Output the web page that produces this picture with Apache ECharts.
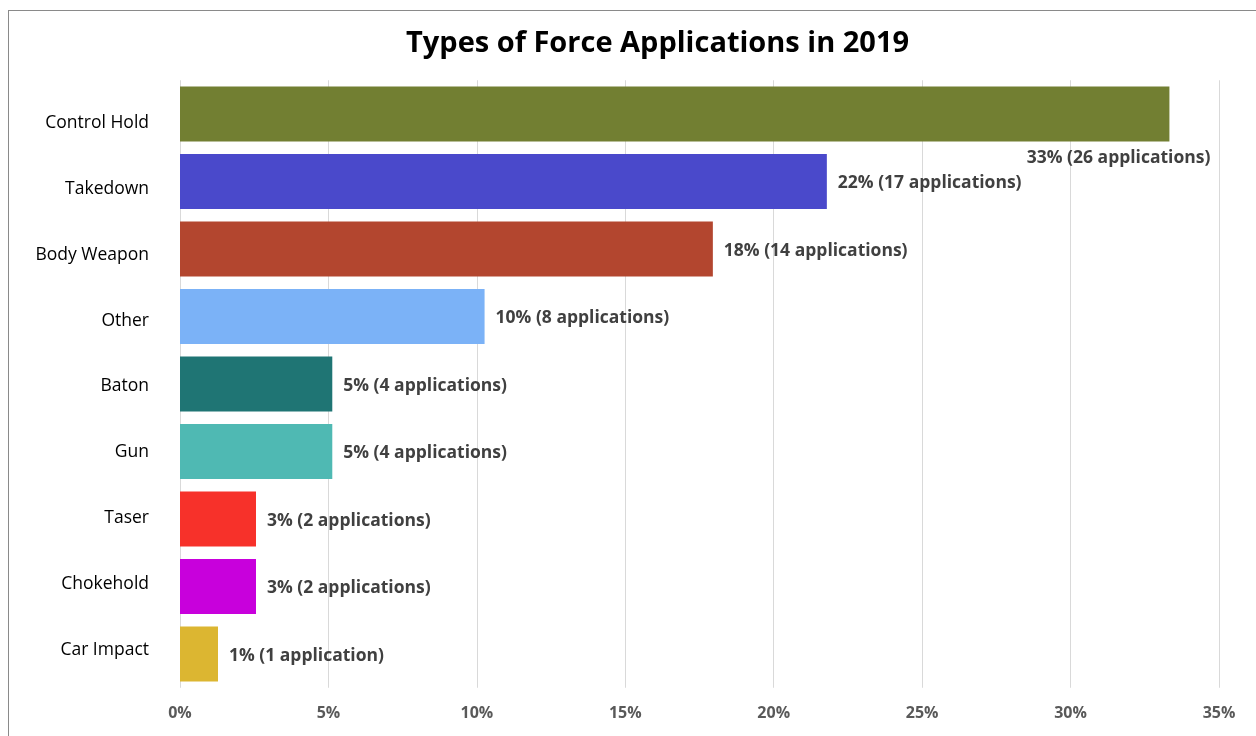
<!DOCTYPE html>
<html>
<head>
<meta charset="utf-8">
<script src="https://cdn.jsdelivr.net/npm/echarts@6/dist/echarts.min.js"></script>
<style>
html,body{margin:0;padding:0;background:#fff;}
#frame{position:absolute;left:8px;top:10px;width:1300px;height:800px;border-left:1.5px solid #8a8a8a;border-top:1.5px solid #8a8a8a;}
#chart{position:absolute;left:0;top:0;width:1256px;height:736px;}
</style>
</head>
<body>
<div id="frame"></div>
<div id="chart"></div>
<script>
const categories = ["Control Hold","Takedown","Body Weapon","Other","Baton","Gun","Taser","Chokehold","Car Impact"];
const percentValues = [33.33, 21.79, 17.95, 10.26, 5.13, 5.13, 2.56, 2.56, 1.28];
const percentLabels = ["33%","22%","18%","10%","5%","5%","3%","3%","1%"];
const applicationCounts = [26, 17, 14, 8, 4, 4, 2, 2, 1];
const barColors = ["#727F32","#4A49CB","#B3462F","#7BB2F7","#1F7574","#4FB9B3","#F7312A","#C800DC","#DCB631"];
const xTicks = [0, 5, 10, 15, 20, 25, 30, 35];

const chart = echarts.init(document.getElementById('chart'));
const data = percentValues.map((v, i) => {
  const item = { value: v, itemStyle: { color: barColors[i] } };
  if (i === 0) {
    item.label = { position: ['100%', '100%'], align: 'right', verticalAlign: 'middle', offset: [41, 17] };
  }
  return item;
});
chart.setOption({
  animation: false,
  title: {
    text: 'Types of Force Applications in 2019',
    left: 401, top: 24,
    textStyle: { fontFamily: 'Open Sans', fontWeight: 'bold', fontSize: 29, color: '#000' }
  },
  grid: [
    { left: 180, right: 37, top: 80.25, bottom: 48.25, containLabel: false },
    { left: 180, right: 37, top: 90, bottom: 53, containLabel: false }
  ],
  xAxis: [{
    type: 'value', gridIndex: 0, min: xTicks[0], max: xTicks[xTicks.length - 1], interval: 5,
    axisLine: { show: false }, axisTick: { show: false },
    splitLine: { lineStyle: { color: '#d9d9d9', width: 1 } },
    axisLabel: { formatter: v => v + '%', margin: 18, color: '#595959', fontWeight: 'bold', fontSize: 16, fontFamily: 'Open Sans' }
  }, {
    type: 'value', gridIndex: 1, min: 0, max: 35, show: false
  }],
  yAxis: [{
    type: 'category', gridIndex: 0, data: categories, inverse: true,
    axisLine: { show: false }, axisTick: { show: false },
    axisLabel: { show: false }
  }, {
    type: 'category', gridIndex: 1, data: categories, inverse: true,
    axisLine: { show: false }, axisTick: { show: false }, splitLine: { show: false },
    axisLabel: { margin: 31, color: '#000', fontSize: 17.5, fontFamily: 'Open Sans' }
  }],
  series: [{
    type: 'bar', xAxisIndex: 0, yAxisIndex: 0, data: data, barCategoryGap: '18.5%',
    label: {
      show: true, position: 'right', distance: 11, offset: [0, 2],
      color: '#404040', fontWeight: 'bold', fontSize: 17.5, fontFamily: 'Open Sans',
      formatter: p => percentLabels[p.dataIndex] + ' (' + applicationCounts[p.dataIndex] + (applicationCounts[p.dataIndex] === 1 ? ' application)' : ' applications)')
    }
  }]
});
</script>
</body>
</html>
